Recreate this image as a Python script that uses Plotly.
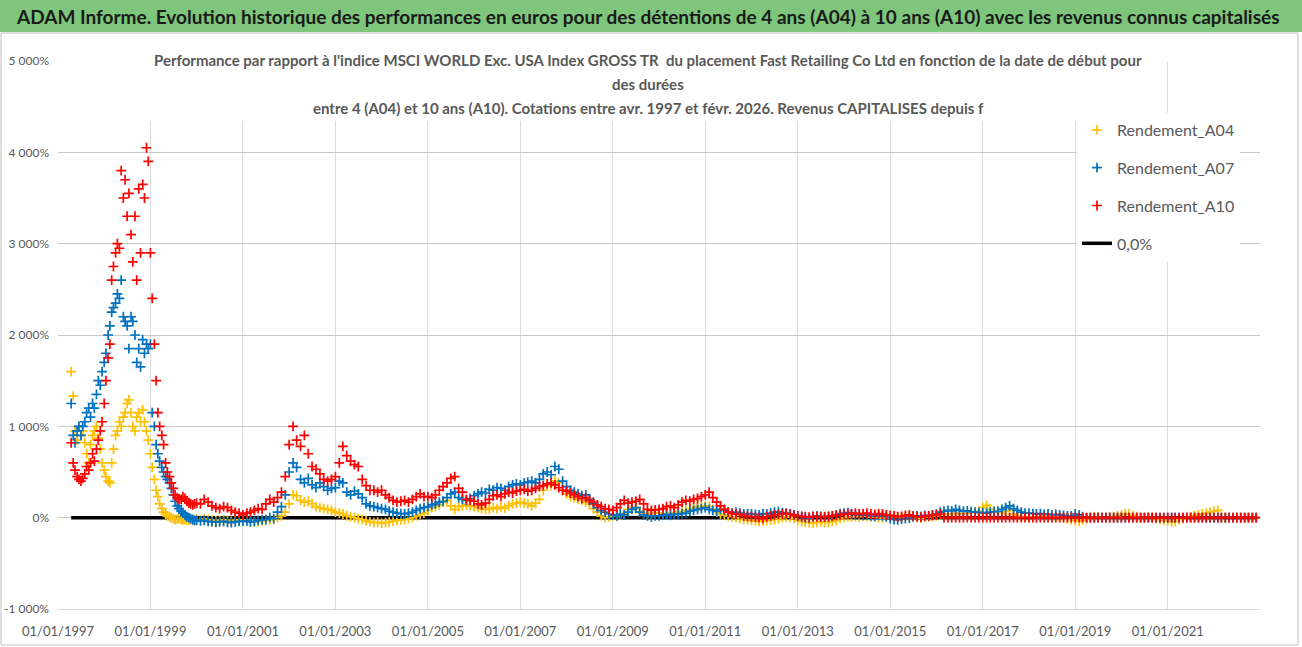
import pandas as pd
import plotly.graph_objects as go

# ---------------- data ----------------
early_dates = pd.date_range("1997-04-15", "1999-12-15", freq="SMS")   # semi-monthly start dates
late_dates = pd.date_range("2000-01-01", "2022-12-01", freq="MS")     # monthly start dates

a04_early = [
    1600, 1330, 950, 850, 1000, 900, 950, 820, 700, 600, 800, 900, 950, 1000, 870, 750, 600,
    520, 450, 400, 380, 600, 750, 900, 950, 1050, 1000, 1100, 1150, 1250, 1290, 1150, 1000,
    950, 1100, 1150, 1050, 1180, 1050, 950, 850,
    700, 550, 420, 300, 230, 150, 100, 60, 40, 20, 10, 0, -10, -20, -15, -10, -20, -25,
    -20, -30, -25, -20, -30, -25,
]
a04_late = [
    -20, -25, -15, -20, -30, -35, -30, -25, -35, -40, -30, -25,
    -30, -35, -40, -45, -40, -35, -30, -25, -20, 0, 20, 60,
    150, 250, 240, 190, 170, 180, 150, 120, 110, 100, 90, 80,
    60, 50, 40, 20, 10, 0, -10, -20, -35, -45, -55, -50,
    -60, -55, -50, -40, -30, -25, -20, -10, 0, 20, 35, 50,
    80, 110, 120, 140, 170, 190, 130, 90, 120, 130, 140, 130,
    120, 110, 100, 90, 95, 110, 100, 115, 105, 130, 150, 160,
    170, 160, 150, 130, 160, 200, 300, 370, 350, 400, 380, 300,
    260, 230, 220, 200, 190, 170, 150, 100, 60, 20, 0, 10,
    20, 15, 30, 45, 90, 110, 100, 70, 50, 40, 45, 55,
    50, 40, 45, 55, 50, 60, 70, 80, 90, 110, 120, 125,
    130, 120, 90, 60, 40, 30, 20, 10, 0, -10, -20, -25,
    -30, -35, -40, -35, -30, -25, -20, -10, 0, 10, 5, -10,
    -30, -40, -50, -55, -60, -50, -45, -55, -50, -40, -30, -10,
    0, 10, 5, 15, 10, 20, 15, 5, 10, 0, -5, 5,
    10, 15, 5, 0, 10, 15, 5, 0, -5, 5, 10, 15,
    20, 30, 35, 40, 45, 50, 40, 45, 50, 55, 60, 70,
    110, 135, 90, 70, 60, 55, 70, 80, 40, 20, 10, 5,
    10, 5, 0, 10, 15, 5, 0, 10, 5, 0, -10, -20,
    -30, -40, -25, -10, 0, 10, 5, 0, -5, 5, 10, 20,
    30, 45, 40, 20, 10, 0, -5, 5, 0, -10, -20, -30,
    -35, -45, -40, -20, -10, 0, 10, 20, 30, 40, 50, 60,
    70, 80, 0, 0, 0, 0, 0, 0, 0, 0, 0, 0,
]

a07_early = [
    1250, 900, 820, 950, 1000, 900, 1000, 1050, 1150, 1200, 1100, 1250, 1200, 1350, 1500, 1450, 1600,
    1700, 1800, 2000, 2100, 2250, 2300, 2350, 2450, 2400, 2600, 2200, 2150, 2100, 1850, 2200, 2150,
    2000, 1700, 1850, 1650, 1950, 1800, 1900, 1850,
    1900, 1150, 1000, 800, 700, 620, 550, 500, 450, 420, 380, 320, 250, 180, 130, 100, 70, 50,
    30, 10, 0, -10, -20, -30,
]
a07_late = [
    -30, -35, -30, -40, -45, -50, -45, -40, -50, -55, -45, -40,
    -40, -35, -45, -40, -30, -25, -20, 0, -10, 60, 120, 250,
    500, 600, 550, 420, 380, 430, 360, 330, 380, 340, 300, 320,
    330, 400, 380, 280, 250, 290, 260, 220, 150, 130, 120, 110,
    100, 90, 70, 60, 50, 45, 40, 50, 60, 80, 100, 110,
    120, 140, 150, 170, 180, 220, 260, 280, 220, 200, 190, 210,
    240, 260, 280, 270, 310, 300, 330, 320, 300, 340, 360, 370,
    360, 380, 390, 400, 380, 420, 480, 500, 470, 560, 530, 400,
    340, 300, 280, 260, 240, 250, 200, 150, 110, 80, 60, 40,
    30, 20, 40, 30, 60, 90, 110, 60, 30, 20, 10, 20,
    20, 30, 35, 25, 40, 35, 45, 50, 70, 80, 90, 100,
    110, 90, 80, 70, 90, 80, 60, 50, 60, 50, 40, 45,
    40, 35, 30, 45, 40, 50, 60, 65, 55, 50, 40, 30,
    20, 10, 0, -5, 10, 20, 15, 5, 10, 20, 30, 45,
    50, 55, 40, 30, 35, 25, 30, 20, 15, 25, 20, 10,
    -10, -20, -25, -15, -10, -5, 10, 20, 15, 25, 20, 30,
    40, 60, 70, 80, 75, 90, 80, 70, 75, 65, 60, 55,
    55, 50, 60, 65, 70, 90, 110, 130, 100, 80, 60, 50,
    50, 45, 40, 45, 35, 40, 30, 35, 30, 25, 20, 20,
    40, 30, 10, 0, 0, 0, 0, 0, 0, 0, 0, 0,
    0, 0, 0, 0, 0, 0, 0, 0, 0, 0, 0, 0,
    0, 0, 0, 0, 0, 0, 0, 0, 0, 0, 0, 0,
    0, 0, 0, 0, 0, 0, 0, 0, 0, 0, 0, 0,
]

a10_early = [
    820, 600, 520, 450, 420, 400, 430, 480, 560, 520, 600, 700, 620, 750, 850, 950, 1050,
    1250, 1500, 1750, 1900, 2600, 2750, 2900, 3000, 2950, 3800, 3500, 3700, 3300, 3550, 3100, 2800,
    3300, 2600, 3600, 2900, 3650, 3500, 4050, 3900,
    2900, 2400, 1900, 1500, 1150, 1000, 900, 800, 600, 500, 450, 380, 320, 250, 220, 200, 200, 230,
    210, 180, 160, 150, 140, 150,
]
a10_late = [
    160, 150, 200, 170, 130, 110, 100, 120, 110, 80, 60, 50,
    30, 50, 60, 80, 100, 90, 150, 200, 170, 220, 280, 450,
    800, 1000, 850, 780, 900, 700, 560, 530, 480, 420, 400, 420,
    450, 600, 780, 680, 620, 580, 560, 420, 350, 300, 300, 280,
    300, 250, 220, 190, 170, 180, 190, 170, 200, 230, 260, 230,
    230, 220, 250, 300, 340, 380, 430, 450, 320, 280, 200, 190,
    180, 150, 140, 160, 200, 240, 250, 230, 260, 280, 270, 290,
    300, 310, 290, 300, 320, 340, 350, 370, 380, 360, 330, 300,
    290, 270, 250, 230, 210, 220, 190, 170, 140, 120, 100, 90,
    80, 110, 150, 190, 160, 170, 180, 200, 150, 90, 80, 85,
    90, 100, 120, 130, 110, 140, 170, 190, 180, 200, 210, 230,
    250, 280, 220, 170, 130, 90, 60, 45, 40, 35, 20, 15,
    10, 5, 0, -10, 10, 20, 30, 35, 40, 45, 35, 30,
    20, 15, 10, 5, 15, 10, 5, 10, 15, 20, 25, 30,
    35, 40, 45, 50, 40, 45, 50, 40, 35, 45, 40, 30,
    25, 20, 10, 15, 25, 30, 20, 10, 5, 15, 20, 25,
    30, 40, 0, 0, 0, 0, 0, 0, 0, 0, 0, 0,
    0, 0, 0, 0, 0, 0, 0, 0, 0, 0, 0, 0,
    0, 0, 0, 0, 0, 0, 0, 0, 0, 0, 0, 0,
    0, 0, 0, 0, 0, 0, 0, 0, 0, 0, 0, 0,
    0, 0, 0, 0, 0, 0, 0, 0, 0, 0, 0, 0,
    0, 0, 0, 0, 0, 0, 0, 0, 0, 0, 0, 0,
    0, 0, 0, 0, 0, 0, 0, 0, 0, 0, 0, 0,
]

zero_level = 0.0
y_tick_values = [-1000, 0, 1000, 2000, 3000, 4000, 5000]
y_tick_labels = ["-1 000%", "0%", "1 000%", "2 000%", "3 000%", "4 000%", "5 000%"]
series_names = ["Rendement_A04", "Rendement_A07", "Rendement_A10"]
series_colors = ["#FFC000", "#0070C0", "#FF0000"]

dates = list(early_dates) + list(late_dates)
series_values = [a04_early + a04_late, a07_early + a07_late, a10_early + a10_late]

# ---------------- figure ----------------
FONT = "Lato, Carlito, Calibri, sans-serif"
W, H = 1302, 647
ML, MR, MT, MB = 58, 42, 61, 38
PW, PH = W - ML - MR, H - MT - MB


def px_x(p):
    return (p - ML) / PW


def px_y(p):
    return 1 - (p - MT) / PH


fig = go.Figure()

fig.add_trace(go.Scatter(
    x=[dates[0], dates[-1]], y=[zero_level, zero_level], mode="lines",
    line=dict(color="black", width=3.5), name="0,0%",
    legendgroup="g4", legendrank=4,
))

for i, (name, col, vals) in enumerate(zip(series_names, series_colors, series_values)):
    fig.add_trace(go.Scatter(
        x=dates, y=vals, mode="markers", name=name,
        marker=dict(symbol="cross-thin", size=7, color=col,
                    line=dict(color=col, width=1.7)),
        legendgroup=f"g{i+1}", legendrank=i + 1,
    ))

shapes = [
    # outer chart frame
    dict(type="rect", xref="paper", yref="paper",
         x0=px_x(1), x1=px_x(1298), y0=px_y(645), y1=px_y(33),
         line=dict(color="#BFBFBF", width=1), fillcolor="rgba(0,0,0,0)", layer="below"),
    # green title bar
    dict(type="rect", xref="paper", yref="paper",
         x0=px_x(0), x1=px_x(1302), y0=px_y(32), y1=px_y(0),
         line=dict(width=0), fillcolor="#7DC67B", layer="above"),
    # white box behind chart title
    dict(type="rect", xref="paper", yref="paper",
         x0=px_x(134), x1=px_x(1164), y0=px_y(121), y1=px_y(48),
         line=dict(width=0), fillcolor="white", layer="above"),
]

annotations = [
    dict(text="ADAM Informe. Evolution historique des performances en euros pour des détentions de 4 ans (A04) à 10 ans (A10) avec les revenus connus capitalisés",
         xref="paper", yref="paper", x=px_x(648), y=px_y(17), xanchor="center", yanchor="middle",
         showarrow=False, font=dict(family=FONT, size=19, color="#1A1A1A", weight="bold")),
    dict(text="Performance par rapport à l'indice MSCI WORLD Exc. USA Index GROSS TR  du placement Fast Retailing Co Ltd en fonction de la date de début pour",
         xref="paper", yref="paper", x=px_x(648), y=px_y(60), xanchor="center", yanchor="middle",
         showarrow=False, font=dict(family=FONT, size=15, color="#595959", weight="bold")),
    dict(text="des durées",
         xref="paper", yref="paper", x=px_x(648), y=px_y(84), xanchor="center", yanchor="middle",
         showarrow=False, font=dict(family=FONT, size=15, color="#595959", weight="bold")),
    dict(text="entre 4 (A04) et 10 ans (A10). Cotations entre avr. 1997 et févr. 2026. Revenus CAPITALISES depuis f",
         xref="paper", yref="paper", x=px_x(648), y=px_y(108), xanchor="center", yanchor="middle",
         showarrow=False, font=dict(family=FONT, size=15, color="#595959", weight="bold")),
]

fig.update_layout(
    width=W, height=H,
    margin=dict(l=ML, r=MR, t=MT, b=MB, pad=0, autoexpand=False),
    paper_bgcolor="white", plot_bgcolor="white",
    font=dict(family=FONT, color="#595959"),
    shapes=shapes, annotations=annotations,
    showlegend=True,
    legend=dict(x=px_x(1077), y=px_y(113), xanchor="left", yanchor="top",
                bgcolor="white", borderwidth=0,
                font=dict(family=FONT, size=16, color="#595959"),
                traceorder="grouped", tracegroupgap=14, itemwidth=30),
    xaxis=dict(type="date", range=["1997-01-01", "2022-12-31"],
               tick0="1997-01-01", dtick="M24", tickformat="%d/%m/%Y",
               showgrid=True, gridcolor="#DDDDDD", gridwidth=1,
               showline=True, linecolor="#D9D9D9", linewidth=1,
               zeroline=False, ticks="", ticklabelstandoff=10, automargin=False,
               tickfont=dict(family=FONT, size=13, color="#595959")),
    yaxis=dict(range=[-1000, 5000], tickvals=y_tick_values, ticktext=y_tick_labels,
               showgrid=True, gridcolor="#C8C8C8", gridwidth=1,
               zeroline=False, showline=False, ticks="", ticklabelstandoff=8, automargin=False,
               tickfont=dict(family=FONT, size=12, color="#595959")),
)

fig.write_html(
    "out.html",
    config={"displayModeBar": False},
    post_script="document.body.style.margin='0';document.body.style.padding='0';document.body.style.overflow='hidden';",
)
